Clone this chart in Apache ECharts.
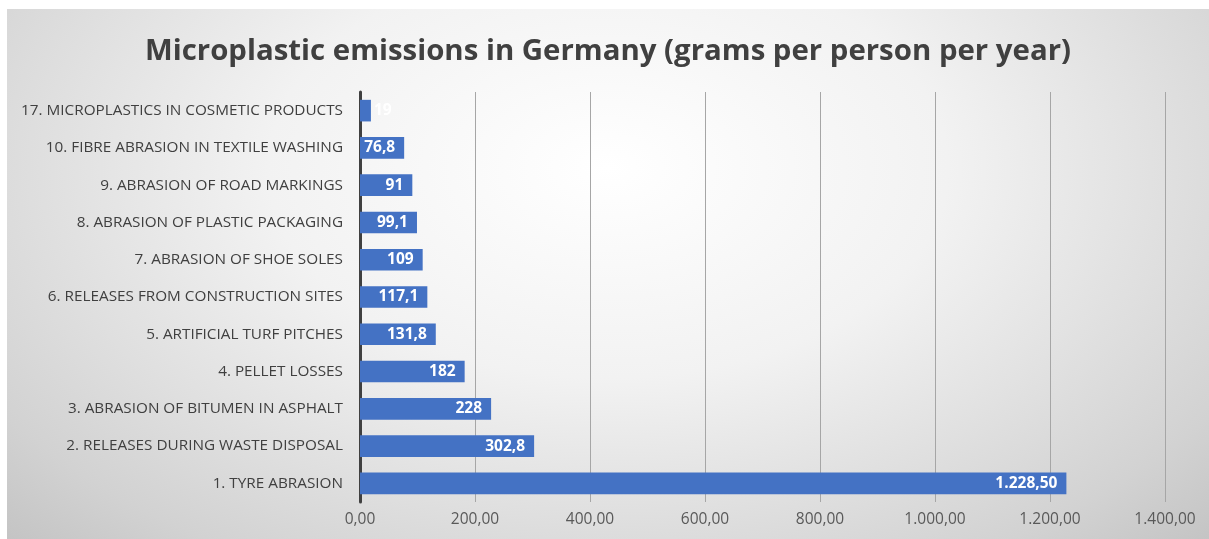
<!DOCTYPE html>
<html><head><meta charset="utf-8">
<script src="https://cdn.jsdelivr.net/npm/echarts@6/dist/echarts.min.js"></script>
<style>
html,body{margin:0;padding:0;background:#fff;}
#wrap{position:absolute;left:7px;top:9px;width:1202px;height:530px;
background:radial-gradient(ellipse at 50% 30%, #ffffff 0%, #f2f2f2 40%, #d2d2d2 85%, #c4c4c4 100%);}
#c{position:absolute;left:0;top:0;width:1202px;height:530px;}
</style></head>
<body><div id="wrap"><div id="c"></div></div>
<script>
const categories = ["1. TYRE ABRASION","2. RELEASES DURING WASTE DISPOSAL","3. ABRASION OF BITUMEN IN ASPHALT","4. PELLET LOSSES","5. ARTIFICIAL TURF PITCHES","6. RELEASES FROM CONSTRUCTION SITES","7. ABRASION OF SHOE SOLES","8. ABRASION OF PLASTIC PACKAGING","9. ABRASION OF ROAD MARKINGS","10. FIBRE ABRASION IN TEXTILE WASHING","17. MICROPLASTICS IN COSMETIC PRODUCTS"];
const values = [1228.5, 302.8, 228, 182, 131.8, 117.1, 109, 99.1, 91, 76.8, 19];
const valueLabels = ["1.228,50","302,8","228","182","131,8","117,1","109","99,1","91","76,8","19"];
const xTicks = ["0,00","200,00","400,00","600,00","800,00","1.000,00","1.200,00","1.400,00"];

const chart = echarts.init(document.getElementById('c'), null, {renderer:'canvas'});
const data = values.map((v,i)=>{
  const d = {value:v};
  if (v < 40) d.label = {position:'right', distance:3};
  return d;
});
chart.setOption({
  backgroundColor:'transparent',
  title:{text:'Microplastic emissions in Germany (grams per person per year)', left:'center', top:23,
    textStyle:{fontFamily:'Open Sans', fontWeight:'bold', fontSize:29.4, color:'#404040'}},
  grid:{left:353, right:44, top:83, bottom:37, containLabel:false},
  xAxis:{type:'value', min:0, max:1400, interval:200,
    axisLine:{show:false}, axisTick:{show:false},
    splitLine:{lineStyle:{color:'#a6a6a6', width:1}},
    axisLabel:{margin:10, fontFamily:'Open Sans', fontSize:15.5, color:'#595959',
      formatter:(v)=>xTicks[Math.round(v/200)]}},
  yAxis:{type:'category', data:categories,
    axisLine:{lineStyle:{color:'#404040', width:3}}, axisTick:{show:false},
    axisLabel:{margin:17, fontFamily:'Open Sans', fontSize:15.3, color:'#404040'}},
  series:[{type:'bar', data:data, barWidth:'58%', itemStyle:{color:'#4472C4'},
    label:{show:true, position:'insideRight', distance:9, color:'#ffffff', fontFamily:'Open Sans', fontWeight:'bold', fontSize:15.5,
      formatter:(p)=>valueLabels[p.dataIndex]}}]
});
</script></body></html>
